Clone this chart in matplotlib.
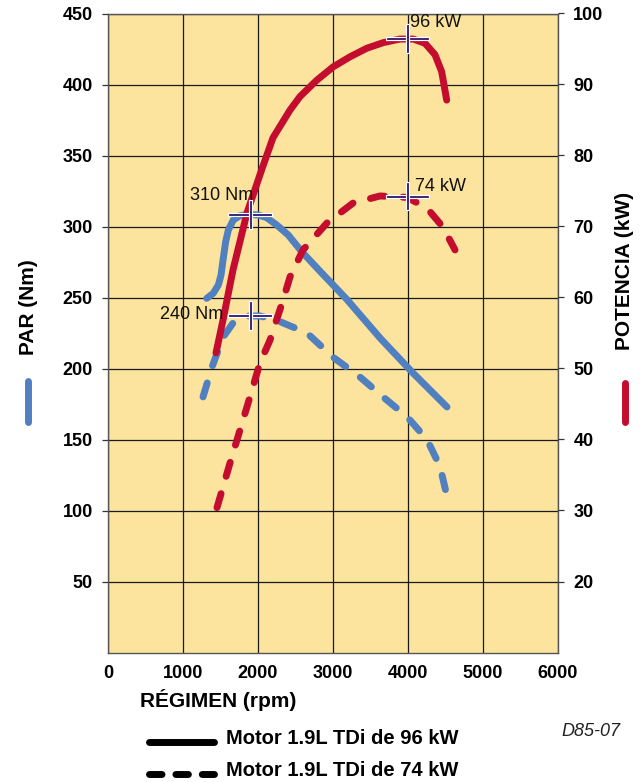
import numpy as np
import matplotlib
matplotlib.use("Agg")
import matplotlib.pyplot as plt
from matplotlib.lines import Line2D
from matplotlib.font_manager import FontProperties
import matplotlib.patheffects as pe

# Data
# 96 kW engine - torque (Nm) and power (kW)
rpm_t96 = [1316, 1404, 1471, 1507, 1537, 1569, 1604, 1671, 1760, 1871, 2004, 2116, 2249, 2404,
           2583, 2827, 3187, 3627, 4067, 4520]
torque_96 = [249.4, 253.0, 258.8, 265.8, 277.6, 289.3, 297.5, 304.6, 307.6, 308.6, 308.1, 306.2, 301.1, 294.0,
             282.3, 268.5, 248.5, 221.5, 196.8, 172.9]
rpm_p96 = [1440, 1533, 1667, 1853, 2049, 2200, 2427, 2560, 2783, 3004, 3227, 3449, 3671, 3893,
           4071, 4227, 4360, 4449, 4516]
power_96 = [52.2, 56.8, 63.9, 71.9, 78.0, 82.5, 86.4, 88.3, 90.6, 92.5, 93.9, 95.1, 95.9, 96.4,
            96.4, 95.8, 94.2, 91.8, 87.8]

# 74 kW engine
rpm_t74 = [1267, 1387, 1533, 1667, 1853, 2027, 2293, 2653, 3000, 3360, 3667, 3987, 4253, 4427, 4520]
torque_74 = [180, 201, 222, 232, 237, 237, 233, 225, 208, 194, 180, 166, 150, 131, 110]
rpm_p74 = [1453, 1627, 1853, 2027, 2160, 2333, 2427, 2600, 2920, 3267, 3627, 3987, 4253, 4467, 4627]
power_74 = [30.4, 36.7, 44.6, 50.8, 54.0, 59.6, 62.9, 66.7, 70.5, 73.3, 74.3, 74.1, 72.6, 69.9, 66.7]

# marked peaks
torque_peak_rpm = [1900, 1900]
torque_peak_val = [308, 237]
torque_peak_lbl = ["310 Nm", "240 Nm"]
power_peak_rpm = [4000, 4000]
power_peak_val = [96.4, 74.2]
power_peak_lbl = ["96 kW", "74 kW"]

x_ticks = [0, 1000, 2000, 3000, 4000, 5000, 6000]
left_ticks = [50, 100, 150, 200, 250, 300, 350, 400, 450]
right_ticks = [20, 30, 40, 50, 60, 70, 80, 90, 100]

RED = "#c40c2f"
BLUE = "#5080c0"
BG = "#fce49e"
PURPLE = "#2e1570"
W, H = 644, 782

tick_fp = FontProperties(family=["Liberation Sans", "DejaVu Sans"], weight="bold", size=13)
lab_font = dict(family=["Liberation Sans", "DejaVu Sans"], weight="bold")


def fx(x):
    return x / W


def fy(y):
    return 1 - y / H


fig = plt.figure(figsize=(W / 100, H / 100), dpi=100)
ax = fig.add_axes([fx(108), fy(652.5), (558 - 108) / W, (652.5 - 13.5) / H])
ax.set_facecolor(BG)
ax.set_xlim(0, 6000)
ax.set_ylim(0, 450)
ax.set_xticks(x_ticks)
ax.set_yticks(left_ticks)
ax.grid(True, color="#1a1a1a", linewidth=0.9)
ax.set_axisbelow(True)
for s in ax.spines.values():
    s.set_color("#555555")
    s.set_linewidth(1.0)
ax.tick_params(axis="x", length=0, pad=9)
ax.tick_params(axis="y", length=4, width=0.9, color="#333333", pad=7)
for lbl in ax.get_xticklabels() + ax.get_yticklabels():
    lbl.set_fontproperties(tick_fp)

ax2 = ax.twinx()
ax2.set_ylim(10, 100)
ax2.set_yticks(right_ticks)
ax2.patch.set_visible(False)
for s in ax2.spines.values():
    s.set_visible(False)
ax2.tick_params(axis="y", length=4, width=0.9, color="#333333", pad=7)
for lbl in ax2.get_yticklabels():
    lbl.set_fontproperties(tick_fp)

lw = 5
dash = (0, (2.1, 2.6))
ax.plot(rpm_t96, torque_96, color=BLUE, lw=lw, solid_capstyle="round", solid_joinstyle="round")
ax.plot(rpm_t74, torque_74, color=BLUE, lw=lw, linestyle=dash, dash_capstyle="round",
        dash_joinstyle="round")
ax2.plot(rpm_p96, power_96, color=RED, lw=lw, solid_capstyle="round", solid_joinstyle="round")
ax2.plot(rpm_p74, power_74, color=RED, lw=lw, linestyle=dash, dash_capstyle="round",
         dash_joinstyle="round")

# crosshair markers
halo = [pe.Stroke(linewidth=3, foreground="white"), pe.Normal()]


def crosshair(x, y, tr, dy):
    ax2.plot([x - 270, x + 270], [y, y], color=PURPLE, lw=1.3, transform=tr, path_effects=halo, zorder=5)
    ax2.plot([x, x], [y - dy, y + dy], color=PURPLE, lw=1.3, transform=tr, path_effects=halo, zorder=5)


for x, y in zip(torque_peak_rpm, torque_peak_val):
    crosshair(x, y, ax.transData, 9)
for x, y in zip(power_peak_rpm, power_peak_val):
    crosshair(x, y, ax2.transData, 1.8)

txt = dict(family=["Liberation Sans", "DejaVu Sans"], size=13, color="#111111")
ax2.text(1930, 322, torque_peak_lbl[0], ha="right", va="center", transform=ax.transData, **txt)
ax2.text(1530, 238, torque_peak_lbl[1], ha="right", va="center", transform=ax.transData, **txt)
ax2.text(4030, 98.8, power_peak_lbl[0], ha="left", va="center", **txt)
ax2.text(4090, 75.6, power_peak_lbl[1], ha="left", va="center", **txt)

# axis titles with colour keys
fig.text(fx(28), fy(307), "PAR (Nm)", rotation=90, ha="center", va="center", size=15, **lab_font)
fig.add_artist(Line2D([fx(28), fx(28)], [fy(381), fy(422)], color=BLUE, lw=5, solid_capstyle="round"))
fig.text(fx(625), fy(271), "POTENCIA (kW)", rotation=90, ha="center", va="center", size=15, **lab_font)
fig.add_artist(Line2D([fx(625), fx(625)], [fy(383), fy(422)], color=RED, lw=5, solid_capstyle="round"))
fig.text(fx(140), fy(700), "RÉGIMEN (rpm)", ha="left", va="center", size=15, **lab_font)

# legend rows
fig.add_artist(Line2D([fx(149), fx(214)], [fy(742), fy(742)], color="black", lw=5, solid_capstyle="round"))
fig.text(fx(226), fy(738), "Motor 1.9L TDi de 96 kW", ha="left", va="center", size=14.5, **lab_font)
fig.add_artist(Line2D([fx(149), fx(214)], [fy(774), fy(774)], color="black", lw=5,
                      linestyle=(0, (1.8, 2.0)), dash_capstyle="round"))
fig.text(fx(226), fy(771), "Motor 1.9L TDi de 74 kW", ha="left", va="center", size=14.5, **lab_font)
fig.text(fx(620), fy(731), "D85-07", ha="right", va="center", size=13, style="italic",
         family=["Liberation Sans", "DejaVu Sans"], color="#222222")

fig.savefig("out.png", dpi=100, facecolor="white")
